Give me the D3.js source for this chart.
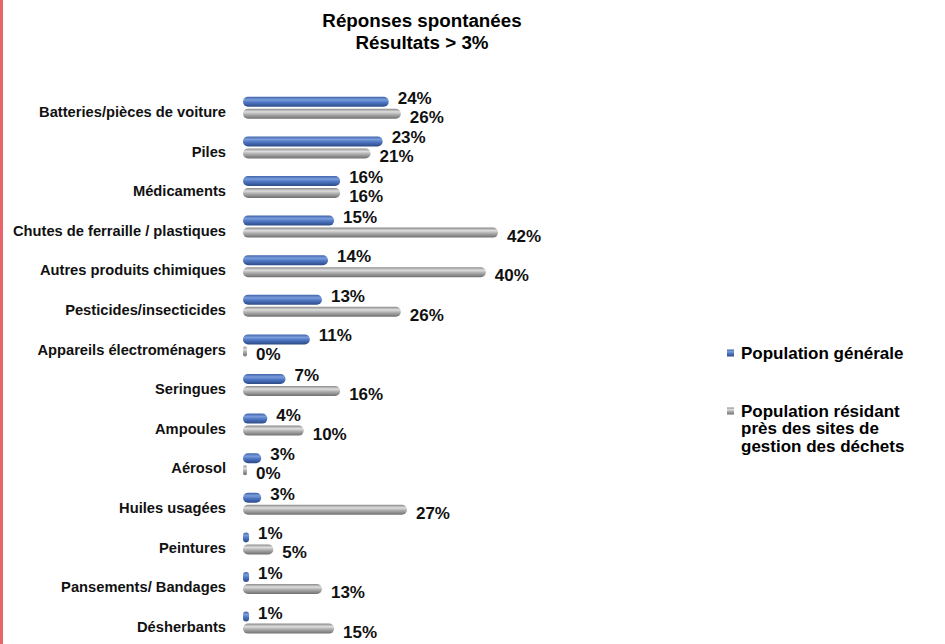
<!DOCTYPE html>
<html>
<head>
<meta charset="utf-8">
<script src="https://cdn.jsdelivr.net/npm/d3@7"></script>
<style>
  body { margin: 0; background: #fff; }
  svg { display: block; font-family: "Liberation Sans", Arial, sans-serif; }
</style>
</head>
<body>
<script>
// categories, top to bottom
const categories = [
    'Batteries/pièces de voiture', 'Piles', 'Médicaments', 'Chutes de ferraille / plastiques',
    'Autres produits chimiques', 'Pesticides/insecticides', 'Appareils électroménagers',
    'Seringues', 'Ampoules', 'Aérosol', 'Huiles usagées', 'Peintures',
    'Pansements/ Bandages', 'Désherbants'
];
// population générale (%)
const generale = [24, 23, 16, 15, 14, 13, 11, 7, 4, 3, 3, 1, 1, 1];
// population résidant près des sites (%)
const riverains = [26, 21, 16, 42, 40, 26, 0, 16, 10, 0, 27, 5, 13, 15];
const seriesNames = ['Population générale', 'Population résidant près des sites de gestion des déchets'];
const legendLines = ['Population résidant', 'près des sites de', 'gestion des déchets'];

const width = 945, height = 644;
const barLeft = 243;
const barH = 10;
const minBar = 4;

const svg = d3.select('body').append('svg')
    .attr('width', width)
    .attr('height', height);

// left pink border
svg.append('rect')
    .attr('x', 0).attr('y', 0)
    .attr('width', 3).attr('height', height)
    .attr('fill', '#e8646b');

// cylinder-like gradients
const defs = svg.append('defs');
function cylGrad(id, stops) {
    const g = defs.append('linearGradient')
        .attr('id', id)
        .attr('x1', 0).attr('y1', 0).attr('x2', 0).attr('y2', 1);
    stops.forEach(s => g.append('stop').attr('offset', s[0]).attr('stop-color', s[1]));
}
cylGrad('gBlue', [[0, '#3f63aa'], [0.3, '#7b9ddb'], [0.55, '#4f77c4'], [1, '#2c4a86']]);
cylGrad('gGray', [[0, '#8a8a8a'], [0.3, '#dedede'], [0.55, '#b0b0b0'], [1, '#6f6f6f']]);

// title
svg.append('text')
    .attr('x', 422).attr('y', 27)
    .attr('text-anchor', 'middle')
    .attr('font-size', '18.8px').attr('font-weight', 'bold')
    .text('Réponses spontanées');
svg.append('text')
    .attr('x', 422).attr('y', 49)
    .attr('text-anchor', 'middle')
    .attr('font-size', '18.8px').attr('font-weight', 'bold')
    .text('Résultats > 3%');

// scales
const x = d3.scaleLinear()
    .domain([0, 42])
    .range([0, 255]);

const y = d3.scaleBand()
    .domain(categories)
    .range([88, 88 + 39.6 * categories.length]);

const rows = svg.selectAll('g.row')
    .data(categories)
    .enter()
    .append('g')
    .attr('class', 'row')
    .attr('transform', d => `translate(0,${y(d) + y.bandwidth() / 2})`);

// category labels
rows.append('text')
    .attr('x', 226)
    .attr('y', 4)
    .attr('dy', '0.35em')
    .attr('text-anchor', 'end')
    .attr('font-size', '14.7px')
    .attr('font-weight', 'bold')
    .attr('fill', '#111')
    .text(d => d);

function barW(v) {
    return Math.max(x(v), minBar);
}

// blue bars (population générale)
rows.append('rect')
    .attr('x', barLeft)
    .attr('y', -11)
    .attr('width', (d, i) => barW(generale[i]))
    .attr('height', barH)
    .attr('rx', (d, i) => Math.min(barH / 2, barW(generale[i]) / 2))
    .attr('fill', 'url(#gBlue)');

// gray bars (riverains)
rows.append('rect')
    .attr('x', barLeft)
    .attr('y', 1)
    .attr('width', (d, i) => barW(riverains[i]))
    .attr('height', barH)
    .attr('rx', (d, i) => Math.min(barH / 2, barW(riverains[i]) / 2))
    .attr('fill', 'url(#gGray)');

// value labels
rows.append('text')
    .attr('x', (d, i) => barLeft + barW(generale[i]) + 9)
    .attr('y', -10)
    .attr('dy', '0.35em')
    .attr('font-size', '17px')
    .attr('font-weight', 'bold')
    .attr('fill', '#111')
    .text((d, i) => generale[i] + '%');

rows.append('text')
    .attr('x', (d, i) => barLeft + barW(riverains[i]) + 9)
    .attr('y', 9)
    .attr('dy', '0.35em')
    .attr('font-size', '17px')
    .attr('font-weight', 'bold')
    .attr('fill', '#111')
    .text((d, i) => riverains[i] + '%');

// legend
const legend = svg.append('g').attr('transform', 'translate(727,353)');
legend.append('rect')
    .attr('x', 0).attr('y', -3.5)
    .attr('width', 7).attr('height', 7)
    .attr('fill', 'url(#gBlue)');
legend.append('text')
    .attr('x', 14).attr('y', 0).attr('dy', '0.35em')
    .attr('font-size', '17px').attr('font-weight', 'bold')
    .text(seriesNames[0]);

const legend2 = svg.append('g').attr('transform', 'translate(727,411)');
legend2.append('rect')
    .attr('x', 0).attr('y', -3.5)
    .attr('width', 7).attr('height', 7)
    .attr('fill', 'url(#gGray)');
legend2.append('text')
    .attr('font-size', '17px').attr('font-weight', 'bold')
    .selectAll('tspan')
    .data(legendLines)
    .enter()
    .append('tspan')
    .attr('x', 14)
    .attr('y', (d, i) => i * 17.5)
    .attr('dy', '0.35em')
    .text(d => d);
</script>
</body>
</html>
